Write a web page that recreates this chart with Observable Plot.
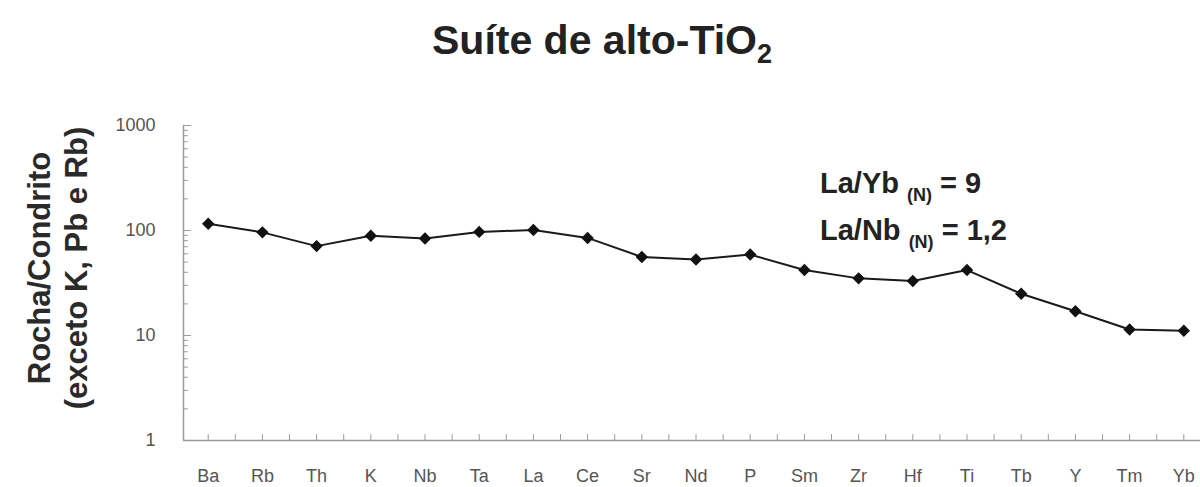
<!DOCTYPE html>
<html>
<head>
<meta charset="utf-8">
<script src="https://cdn.jsdelivr.net/npm/d3@7"></script>
<script src="https://cdn.jsdelivr.net/npm/@observablehq/plot@0.6"></script>
<style>
  body { margin: 0; background: #fff; font-family: "Liberation Sans", Arial, sans-serif; }
  #head { position: relative; height: 90px; }
  #head h1 {
    position: absolute; left: 0; top: 20px; width: 1204px; margin: 0;
    text-align: center; font-size: 41px; line-height: 40px; font-weight: bold; color: #222;
  }
  #head h1 sub { font-size: 27px; vertical-align: -9px; line-height: 0; }
</style>
</head>
<body>
<div id="head"><h1>Suíte de alto-TiO<sub>2</sub></h1></div>
<div id="chart"></div>
<script>
// Elements of the spider diagram, in plotting order
const elements = ["Ba", "Rb", "Th", "K", "Nb", "Ta", "La", "Ce", "Sr", "Nd", "P", "Sm", "Zr", "Hf", "Ti", "Tb", "Y", "Tm", "Yb"];
// Rock / chondrite normalised concentrations
const values = [116, 96, 71, 89, 84, 97, 101, 85, 56, 53, 59, 42, 35, 33, 42, 25, 17, 11.4, 11.1];
// Labelled decades of the log axis
const yTicks = [1, 10, 100, 1000];
// Ratio annotations: name, value
const ratioNames = ["La/Yb", "La/Nb"];
const ratioValues = ["9", "1,2"];

const data = elements.map((el, i) => ({el, i, v: values[i]}));
const xDomain = [-0.456, 18.308];
const halfSteps = d3.range(0, elements.length - 0.99, 0.5);
const minorY = [];
for (let k = 0; k < 3; k++) for (let m = 2; m <= 9; m++) minorY.push(m * 10 ** k);

// a plain straight stroke for the tick marks
const stick = {draw(ctx, l) { ctx.moveTo(0, 0); ctx.lineTo(0, -l); }};
const axisColor = "#9a9a9a";

const chart = Plot.plot({
  width: 1200,
  height: 397,
  marginLeft: 183,
  marginRight: 0,
  marginTop: 35,
  marginBottom: 47,
  style: {fontFamily: "Liberation Sans, Arial, sans-serif", background: "#fff"},
  x: {domain: xDomain, axis: null},
  y: {type: "log", domain: [1, 1000], axis: null},
  marks: [
    Plot.ruleY([1], {stroke: axisColor, strokeWidth: 1.5}),
    Plot.ruleX([xDomain[0]], {y1: 1, y2: 1000, stroke: axisColor, strokeWidth: 1.5}),
    Plot.vector(halfSteps, {x: d => d, y: 1, length: 6, rotate: 0, anchor: "start", shape: stick, stroke: axisColor, strokeWidth: 1}),
    Plot.vector(minorY, {x: xDomain[0], y: d => d, length: 4, rotate: 90, anchor: "start", shape: stick, stroke: axisColor, strokeWidth: 1}),
    Plot.vector(yTicks, {x: xDomain[0], y: d => d, length: 7, rotate: 90, anchor: "start", shape: stick, stroke: axisColor, strokeWidth: 1}),
    Plot.axisX(d3.range(elements.length), {tickSize: 0, tickPadding: 29, tickFormat: i => elements[i], fontSize: 18, color: "#555", label: null}),
    Plot.axisY(yTicks, {tickSize: 0, tickPadding: 28, tickFormat: d => String(d), fontSize: 18, color: "#555", label: null}),
    Plot.line(data, {x: "i", y: "v", stroke: "#1a1a1a", strokeWidth: 2}),
    Plot.dot(data, {x: "i", y: "v", symbol: "diamond2", r: 5.6, fill: "#111", stroke: "none"})
  ]
});
document.getElementById("chart").appendChild(chart);

const svg = d3.select(chart);

// y-axis title on two lines
const yTitle = svg.append("g")
  .attr("font-size", 31).attr("font-weight", "bold").attr("fill", "#2a2a2a")
  .attr("text-anchor", "middle");
[["Rocha/Condrito", 50], ["(exceto K, Pb e Rb)", 87]].forEach(([t, bx]) => {
  yTitle.append("text").attr("transform", `translate(${bx},178) rotate(-90)`).text(t);
});

// ratio annotations with subscript (N)
const notes = svg.append("g").attr("font-weight", "bold").attr("fill", "#222").attr("text-anchor", "start");
ratioNames.forEach((name, k) => {
  const t = notes.append("text").attr("x", 820).attr("y", 103 + k * 47).attr("font-size", 29);
  t.append("tspan").text(name + " ");
  t.append("tspan").attr("font-size", 18).attr("dy", 8).text("(N)");
  t.append("tspan").attr("dy", -8).text(" = " + ratioValues[k]);
});
</script>
</body>
</html>
